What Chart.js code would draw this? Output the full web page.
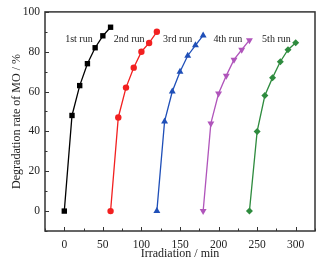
<!DOCTYPE html>
<html><head><meta charset="utf-8">
<script src="https://cdn.jsdelivr.net/npm/chart.js@4"></script>
<style>html,body{margin:0;padding:0;background:#fff}#w{width:331px;height:263px}</style>
</head><body><div id="w"><canvas id="c"></canvas></div>
<script>
const run1X = [0,10,20,30,40,50,60];
const run1Y = [0,48,63,74,82,88,92.3];
const run2X = [60,70,80,90,100,110,120];
const run2Y = [0,47,62,72,80,84.4,90];
const run3X = [120,130,140,150,160,170,180];
const run3Y = [0,45,60,70,78,83.2,88.2];
const run4X = [180,190,200,210,220,230,240];
const run4Y = [0,44,59,68,76,81,85.8];
const run5X = [240,250,260,270,280,290,300];
const run5Y = [0,40,58,67,75,81,84.5];
const runLabels = ['1st run','2nd run','3rd run','4th run','5th run'];
const labelX = [19,84,147,212,275];
const labelY = 86;
const xTicks = [0,50,100,150,200,250,300];
const yTicks = [0,20,40,60,80,100];

const pts = (xs,ys)=>xs.map((x,i)=>({x,y:ys[i]}));
const colors = ['#000000','#f22020','#1f4fb8','#b055bb','#2e8b3e'];
const styles = ['rect','circle','triangle','triangle','rectRot'];
const rots = [0,0,0,180,0];
const radii = [3.8,3.2,4,4,3.5];
const series = [[run1X,run1Y],[run2X,run2Y],[run3X,run3Y],[run4X,run4Y],[run5X,run5Y]];

const serif = "'Liberation Serif','DejaVu Serif',serif";

const framePlugin = {
  id:'frame',
  afterDatasetsDraw(chart){
    const {ctx, chartArea:a, scales:{x,y}} = chart;
    ctx.save();
    ctx.strokeStyle='#333'; ctx.lineWidth=1.5;
    ctx.strokeRect(a.left,a.top,a.right-a.left,a.bottom-a.top);
    ctx.lineWidth=1;
    ctx.beginPath();
    for(let v=Math.ceil(x.min/25)*25; v<=x.max; v+=25){
      const px=Math.round(x.getPixelForValue(v))+0.5;
      const len = (v%50===0)?4:2.5;
      ctx.moveTo(px,a.bottom); ctx.lineTo(px,a.bottom-len);
    }
    for(let v=Math.ceil(y.min/10)*10; v<=y.max; v+=10){
      const py=Math.round(y.getPixelForValue(v))+0.5;
      const len = (v%20===0)?4:2.5;
      ctx.moveTo(a.left,py); ctx.lineTo(a.left+len,py);
    }
    ctx.stroke();
    ctx.fillStyle='#222';
    ctx.font="10px "+serif;
    ctx.textAlign='center'; ctx.textBaseline='middle';
    runLabels.forEach((t,i)=>{
      ctx.fillText(t, x.getPixelForValue(labelX[i]), y.getPixelForValue(labelY));
    });
    ctx.restore();
  }
};

new Chart(document.getElementById('c'),{
  type:'line',
  data:{datasets: series.map((s,i)=>({
    data: pts(s[0],s[1]),
    borderColor: colors[i], backgroundColor: colors[i],
    borderWidth: 1.3, pointStyle: styles[i], pointRotation: rots[i],
    pointRadius: radii[i], pointBorderWidth: 0, tension: 0
  }))},
  options:{
    responsive:true, maintainAspectRatio:false, animation:false,
    layout:{padding:{top:11,right:16,left:10,bottom:0}},
    plugins:{legend:{display:false},tooltip:{enabled:false}},
    scales:{
      x:{type:'linear', min:-25, max:325,
        afterBuildTicks(s){s.ticks = xTicks.map(v=>({value:v}));},
        afterFit(s){s.height=32;},
        grid:{display:false, drawTicks:false}, border:{display:false},
        ticks:{padding:7, color:'#222', font:{family:serif,size:11.5}, maxRotation:0},
        title:{display:true,text:'Irradiation / min',color:'#222',font:{family:serif,size:12},padding:{top:0,bottom:2}}
      },
      y:{type:'linear', min:-10, max:100,
        afterBuildTicks(s){s.ticks = yTicks.map(v=>({value:v}));},
        afterFit(s){s.width=35;},
        grid:{display:false, drawTicks:false}, border:{display:false},
        ticks:{padding:5, color:'#222', font:{family:serif,size:11.5}},
        title:{display:true,text:'Degradation rate of MO / %',color:'#222',font:{family:serif,size:12},padding:{top:0,bottom:0}}
      }
    }
  },
  plugins:[framePlugin]
});
</script></body></html>
